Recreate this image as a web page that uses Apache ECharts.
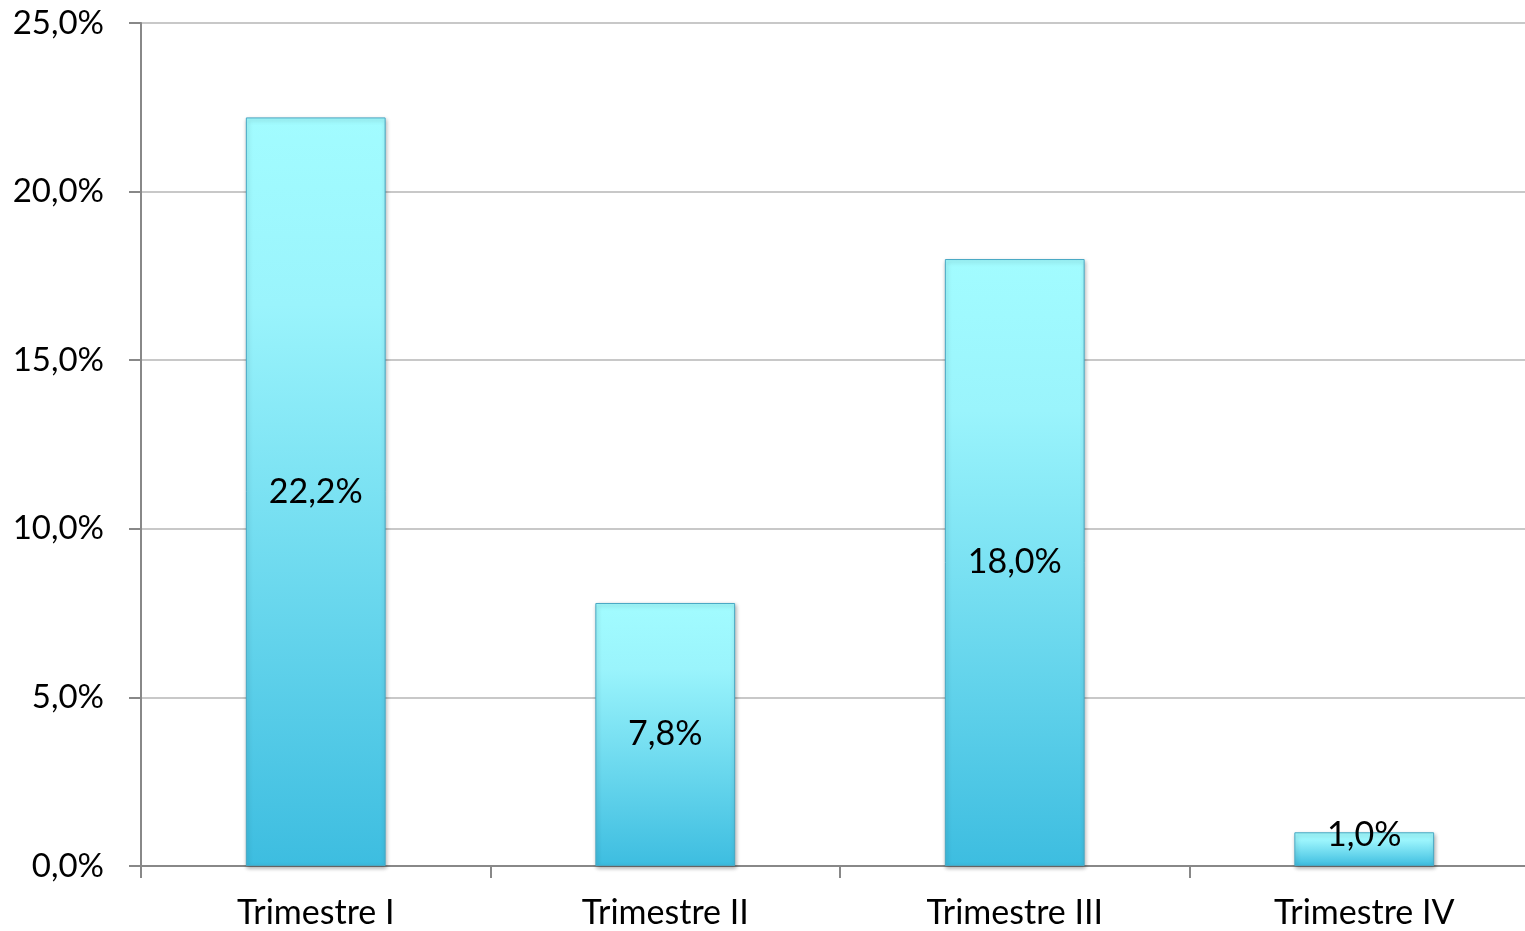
<!DOCTYPE html>
<html><head><meta charset="utf-8">
<script src="https://cdn.jsdelivr.net/npm/echarts@6/dist/echarts.min.js"></script>
<style>html,body{margin:0;padding:0;background:#fff;overflow:hidden}#c{width:1525px;height:931px}</style>
</head><body><div id="c"></div>
<script>
const categories = ['Trimestre I', 'Trimestre II', 'Trimestre III', 'Trimestre IV'];
const values = [22.2, 7.8, 18.0, 1.0];
const fmt = v => v.toFixed(1).replace('.', ',') + '%';
const chart = echarts.init(document.getElementById('c'));
const seriesData = values.map(v => v < 3 ? { value: v, label: { offset: [0, -14] } } : v);
chart.setOption({
  animation: false,
  grid: { left: 141, width: 1398, top: 23, bottom: 65, outerBoundsMode: 'none' },
  xAxis: {
    type: 'category', data: categories,
    axisLine: { lineStyle: { color: '#888', width: 2 } },
    axisTick: { show: true, length: 12, lineStyle: { color: '#888', width: 2 } },
    axisLabel: { color: '#000', fontSize: 34, fontFamily: 'Lato', margin: 30 }
  },
  yAxis: {
    type: 'value', min: 0, max: 25, interval: 5,
    axisLine: { show: true, lineStyle: { color: '#888', width: 2 } },
    axisTick: { show: true, inside: false, length: 12, lineStyle: { color: '#888', width: 2 } },
    splitLine: { lineStyle: { color: '#c8c8c8', width: 2 } },
    axisLabel: { color: '#000', fontSize: 33, fontFamily: 'Lato', margin: 37, formatter: v => fmt(v) }
  },
  series: [{
    type: 'bar', data: seriesData, barWidth: '40%',
    itemStyle: {
      color: new echarts.graphic.LinearGradient(0, 0, 0, 1, [
        { offset: 0, color: '#a2fcff' },
        { offset: 0.25, color: '#9af4fc' },
        { offset: 1, color: '#3dbde0' }
      ]),
      borderColor: '#48a8c4', borderWidth: 1,
      shadowColor: 'rgba(0,0,0,0.3)', shadowBlur: 4, shadowOffsetX: 1, shadowOffsetY: 2
    },
    label: { show: true, position: 'inside', color: '#000', fontSize: 34, fontFamily: 'Lato', formatter: p => fmt(p.value) }
  }]
});
</script></body></html>
